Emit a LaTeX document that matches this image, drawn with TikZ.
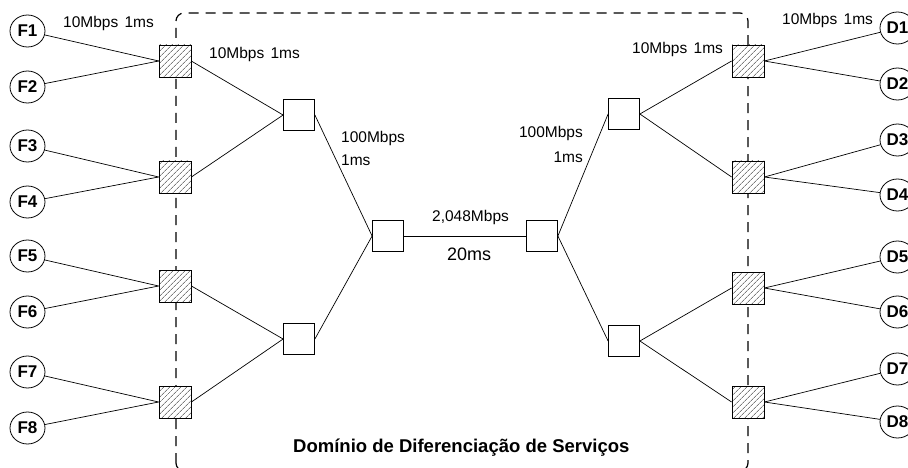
\documentclass[tikz,border=0pt]{standalone}
\usepackage{fontspec}
\setmainfont{Liberation Sans}
\usetikzlibrary{patterns.meta,shapes.geometric}

\begin{document}
\begin{tikzpicture}[x=1pt,y=-1pt,
  hostnode/.style={ellipse,draw,line width=0.8pt,minimum width=35pt,minimum height=32pt,
    inner sep=0pt,font=\fontsize{17}{17}\selectfont\bfseries},
  edgebox/.style={rectangle,draw,line width=0.8pt,minimum size=32pt,inner sep=0pt,
    preaction={fill=white},
    pattern={Lines[angle=45,distance=4pt,line width=0.5pt]},pattern color=black!80},
  corebox/.style={rectangle,draw,fill=white,line width=0.8pt,minimum size=31pt,inner sep=0pt},
  netlink/.style={line width=0.7pt},
  dsborder/.style={line width=1.2pt,dash pattern=on 10pt off 7pt,rounded corners=8pt},
  lbl/.style={font=\fontsize{15.5}{15.5}\selectfont,inner sep=0pt},
]
\useasboundingbox (0,0) rectangle (908,468);
\clip (0,0) rectangle (908,468);

% boundary of the DiffServ domain
\draw[dsborder] (176,471) -- (176,13) -- (748,13) -- (748,471) -- cycle;

% source hosts
\foreach \n/\y in {1/31,2/87,3/146,4/202,5/256,6/312,7/372,8/428}
  \node[hostnode] (F\n) at (27.5,\y) {F\n};
% destination hosts
\foreach \n/\y in {1/28,2/84,3/140,4/195,5/257,6/312,7/369,8/422}
  \node[hostnode] (D\n) at (897.5,\y) {D\n};

% edge routers
\node[edgebox] (EL1) at (175,61) {};
\node[edgebox] (EL2) at (175,177) {};
\node[edgebox] (EL3) at (175,286) {};
\node[edgebox] (EL4) at (175,402) {};
\node[edgebox] (ER1) at (748,61) {};
\node[edgebox] (ER2) at (748,177) {};
\node[edgebox] (ER3) at (748,288) {};
\node[edgebox] (ER4) at (748,402) {};

% core routers
\node[corebox] (IL1) at (299,115) {};
\node[corebox] (IL2) at (299,339) {};
\node[corebox] (IR1) at (624,114) {};
\node[corebox] (IR2) at (624,341) {};
\node[corebox] (CL) at (388,236) {};
\node[corebox] (CR) at (542,236) {};

% host access links
\foreach \h/\r in {1/1,2/1,3/2,4/2,5/3,6/3,7/4,8/4}{
  \draw[netlink] (F\h) -- (EL\r.west);
  \draw[netlink] (D\h) -- (ER\r.east);
}

% links inside the domain
\draw[netlink] (EL1.east) -- (IL1.west);
\draw[netlink] (EL2.east) -- (IL1.west);
\draw[netlink] (EL3.east) -- (IL2.west);
\draw[netlink] (EL4.east) -- (IL2.west);
\draw[netlink] (ER1.west) -- (IR1.east);
\draw[netlink] (ER2.west) -- (IR1.east);
\draw[netlink] (ER3.west) -- (IR2.east);
\draw[netlink] (ER4.west) -- (IR2.east);
\draw[netlink] (IL1.east) -- (CL.west);
\draw[netlink] (IL2.east) -- (CL.west);
\draw[netlink] (IR1.west) -- (CR.east);
\draw[netlink] (IR2.west) -- (CR.east);
\draw[netlink] (CL.east) -- (CR.west);

% link labels
\node[lbl,anchor=base west] (la) at (63,28) {10Mbps\hspace{2pt} 1ms};
\node[lbl,anchor=base west] (lb) at (209,59) {10Mbps\hspace{2pt} 1ms};
\node[lbl,anchor=base west] (lc) at (782,25) {10Mbps\hspace{2pt} 1ms};
\node[lbl,anchor=base west] (ld) at (632,54) {10Mbps\hspace{2pt} 1ms};
\node[lbl,anchor=base west] (le) at (341,143) {100Mbps};
\node[lbl,anchor=base west] (lf) at (341,166) {1ms};
\node[lbl,anchor=base east] (lg) at (583,138) {100Mbps};
\node[lbl,anchor=base east] (lh) at (583,163) {1ms};
\node[lbl,anchor=base west] (li) at (432,222) {2,048Mbps};
\node[lbl,anchor=base west,font=\fontsize{18}{18}\selectfont] (lj) at (447,260) {20ms};

% domain title
\node[inner sep=0pt,anchor=base west,font=\fontsize{18.5}{18.5}\selectfont\bfseries] (title)
  at (293,452) {Domínio de Diferenciação de Serviços};
\end{tikzpicture}
\end{document}
